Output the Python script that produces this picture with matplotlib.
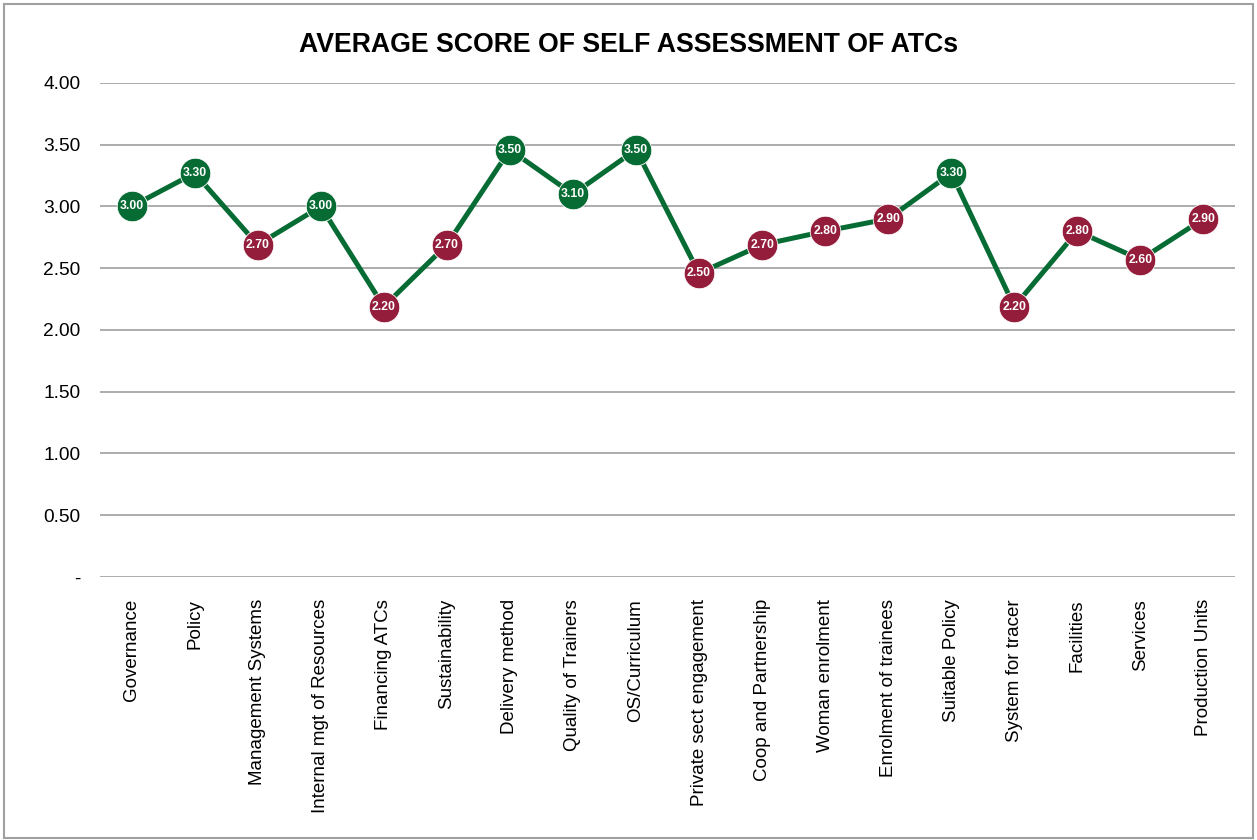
import matplotlib
matplotlib.use("Agg")
import matplotlib.pyplot as plt
from matplotlib.patches import Rectangle
from matplotlib.ticker import FuncFormatter

categories = ["Governance", "Policy", "Management Systems", "Internal mgt of Resources",
              "Financing ATCs", "Sustainability", "Delivery method", "Quality of Trainers",
              "OS/Curriculum", "Private sect engagement", "Coop and Partnership",
              "Woman enrolment", "Enrolment of trainees", "Suitable Policy",
              "System for tracer", "Facilities", "Services", "Production Units"]
scores = [3.00, 3.27, 2.69, 3.00, 2.19, 2.69, 3.46, 3.10, 3.46, 2.46, 2.69,
          2.80, 2.90, 3.27, 2.19, 2.80, 2.57, 2.90]
score_labels = ["3.00", "3.30", "2.70", "3.00", "2.20", "2.70", "3.50", "3.10", "3.50",
                "2.50", "2.70", "2.80", "2.90", "3.30", "2.20", "2.80", "2.60", "2.90"]
yticks = [0, 0.5, 1.0, 1.5, 2.0, 2.5, 3.0, 3.5, 4.0]

GREEN = "#076b34"
MAROON = "#931d3a"

plt.rcParams['font.family'] = ['Liberation Sans', 'DejaVu Sans']

fig = plt.figure(figsize=(12.57, 8.4), dpi=100)
ax = fig.add_axes([0.0796, 0.3131, 0.9029, 0.5881])

x = list(range(len(categories)))
ax.plot(x, scores, color=GREEN, lw=3.6, zorder=3, solid_joinstyle='round')
for xi, v, lab in zip(x, scores, score_labels):
    c = GREEN if float(lab) >= 3.0 else MAROON
    ax.plot(xi, v, 'o', ms=22, color=c, mec='white', mew=0.6, zorder=4)
    ax.text(xi, v, lab, ha='center', va='center', color='white', fontsize=8.8,
            fontweight='bold', zorder=5)

ax.set_xlim(-0.5, len(categories) - 0.5)
ax.set_ylim(0, 4)
ax.set_yticks(yticks)
ax.yaxis.set_major_formatter(FuncFormatter(lambda v, p: "-" if v == 0 else f"{v:.2f}"))
ax.set_xticks(x)
ax.set_xticklabels(categories, rotation=90, fontsize=13.5, va='top', ha='center')
ax.tick_params(axis='y', length=0, labelsize=13.8, pad=14)
ax.tick_params(axis='x', length=0, pad=16)
ax.grid(axis='y', color='#a6a6a6', lw=1.3)
ax.set_axisbelow(True)
for s in ax.spines.values():
    s.set_visible(False)

fig.text(0.5, 0.947, "AVERAGE SCORE OF SELF ASSESSMENT OF ATCs", ha='center', va='center',
         fontsize=19.2, fontweight='bold')

fig.patches.append(Rectangle((0.003, 0.002), 0.994, 0.993, transform=fig.transFigure,
                             fill=False, edgecolor='#a0a0a0', lw=1.5))

fig.savefig("out.png", dpi=100, facecolor='white')
